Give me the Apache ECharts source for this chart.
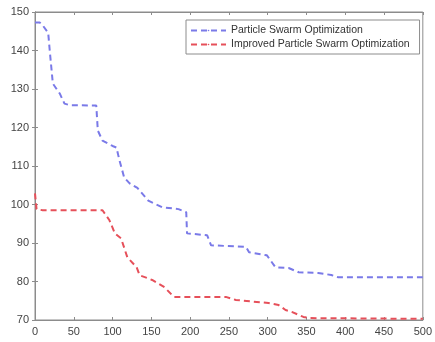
<!DOCTYPE html>
<html>
<head>
<meta charset="utf-8">
<script src="https://cdn.jsdelivr.net/npm/echarts@6/dist/echarts.min.js"></script>
<style>
  html, body { margin: 0; padding: 0; background: #fff; }
  #chart { width: 435px; height: 342px; }
</style>
</head>
<body>
<div id="chart"></div>
<script>
// iteration / fitness pairs
var psoData = [
  [0, 147.3], [6, 147.3], [10, 146.5], [17, 144.6], [19, 140], [23, 131.4],
  [32, 128.8], [38, 126.2], [45, 125.8], [79, 125.7], [81, 119.2], [87, 116.6],
  [100, 115.2], [105, 114.8], [109, 111.4], [115, 107], [122, 105.5], [132, 104.3],
  [146, 101], [164, 99.3], [185, 98.8], [195, 98], [196, 92.5], [222, 92],
  [227, 89.4], [272, 89], [276, 87.6], [299, 86.8], [310, 83.7], [327, 83.5],
  [340, 82.4], [365, 82.2], [382, 81.7], [391, 81.1], [500, 81.1]
];
var ipsoData = [
  [0, 102.9], [2, 98.8], [10, 98.5], [87, 98.5], [96, 95.9], [103, 92.5],
  [111, 91.2], [119, 86.3], [131, 83.7], [135, 81.6], [145, 80.9], [151, 80.4],
  [167, 78.5], [179, 76], [246, 76], [259, 75.2], [301, 74.4], [314, 73.9],
  [323, 72.6], [331, 72.1], [346, 70.8], [353, 70.5], [500, 70.3]
];
var seriesNames = ['Particle Swarm Optimization', 'Improved Particle Swarm Optimization'];

var chart = echarts.init(document.getElementById('chart'));
var axisCol = '#8c8c8c';
var font = 'Liberation Sans, Arial, sans-serif';

var option = {
    animation: false,
    grid: {left: 35, right: 8, top: 12, bottom: 22, show: true, borderColor: axisCol, borderWidth: 1},
    legend: {
        data: seriesNames,
        orient: 'vertical',
        left: 186, top: 20,
        borderColor: axisCol, borderWidth: 1,
        backgroundColor: '#fff',
        padding: [4, 10, 3, 4],
        itemGap: 1,
        itemWidth: 35, itemHeight: 2,
        textStyle: {fontFamily: font, fontSize: 10.5, lineHeight: 13, color: '#333'}
    },
    xAxis: [{
        type: 'value', min: 0, max: 500, interval: 50,
        axisLine: {lineStyle: {color: axisCol}},
        axisTick: {inside: true, length: 3, lineStyle: {color: axisCol}},
        axisLabel: {fontFamily: font, fontSize: 11, color: '#444', margin: 6},
        splitLine: {show: false}
    }, {
        type: 'value', min: 0, max: 500, interval: 50, position: 'top',
        axisLine: {lineStyle: {color: axisCol}},
        axisTick: {inside: true, length: 3, lineStyle: {color: axisCol}},
        axisLabel: {show: false},
        splitLine: {show: false}
    }],
    yAxis: [{
        type: 'value', min: 70, max: 150, interval: 10,
        axisLine: {show: true, lineStyle: {color: axisCol}},
        axisTick: {show: true, inside: true, length: 3, lineStyle: {color: axisCol}},
        axisLabel: {fontFamily: font, fontSize: 11, color: '#444', margin: 6},
        splitLine: {show: false}
    }, {
        type: 'value', min: 70, max: 150, interval: 10, position: 'right',
        axisLine: {show: true, lineStyle: {color: axisCol}},
        axisTick: {show: true, inside: true, length: 3, lineStyle: {color: axisCol}},
        axisLabel: {show: false},
        splitLine: {show: false}
    }],
    series: [{
        name: seriesNames[0],
        type: 'line',
        data: psoData,
        symbol: 'none',
        lineStyle: {color: '#7a7ae8', width: 2, type: [6, 4]},
        itemStyle: {color: '#7a7ae8'}
    }, {
        name: seriesNames[1],
        type: 'line',
        data: ipsoData,
        symbol: 'none',
        lineStyle: {color: '#e6505a', width: 2, type: [6, 4]},
        itemStyle: {color: '#e6505a'}
    }]
};
chart.setOption(option);
</script>
</body>
</html>
